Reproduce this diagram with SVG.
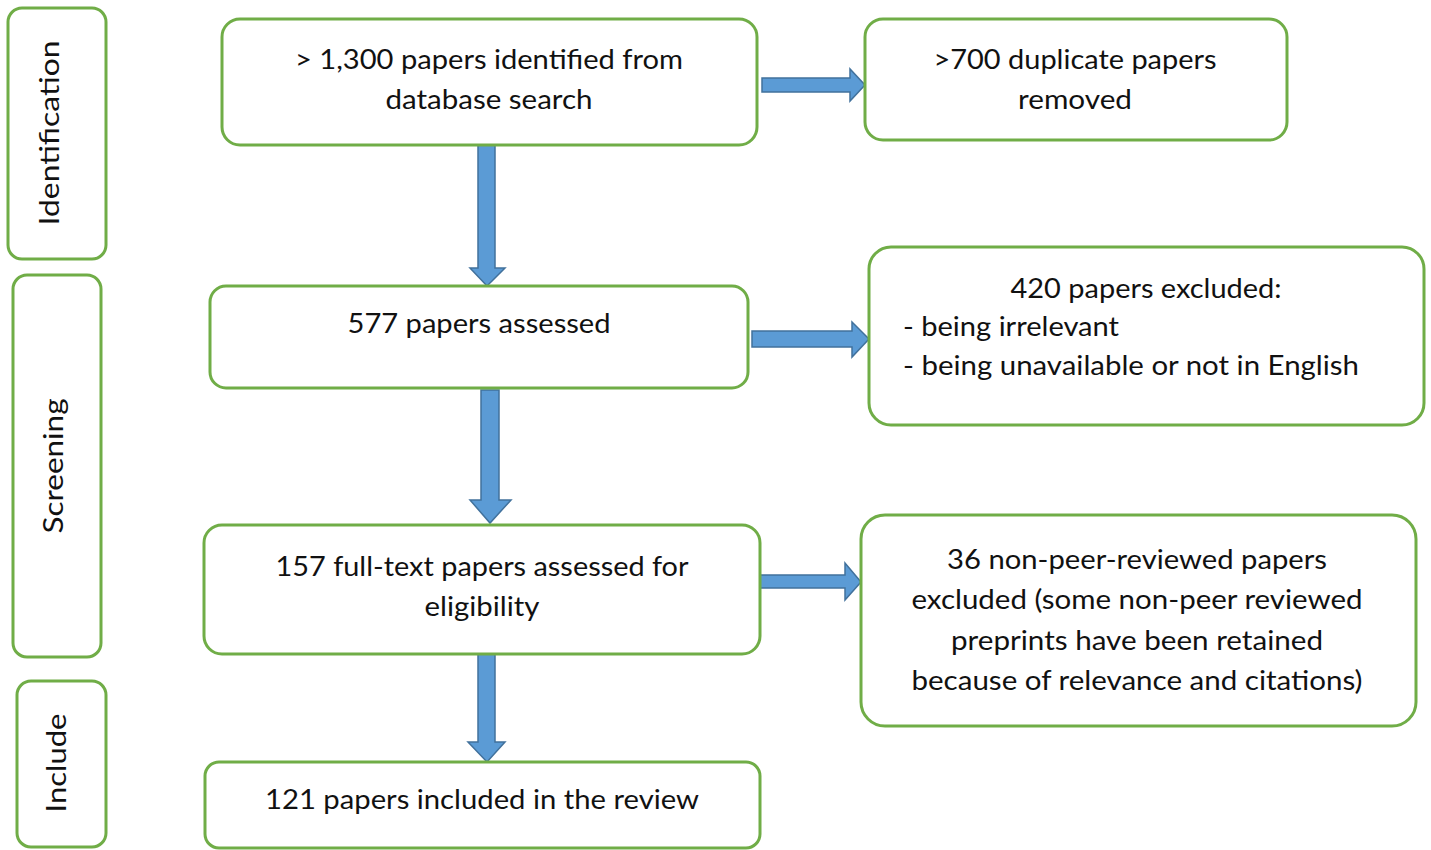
<svg xmlns="http://www.w3.org/2000/svg" width="1431" height="850" viewBox="0 0 1431 850">
<style>
.box{fill:#fff;stroke:#70ad47;stroke-width:3}
.arr{fill:#5b9bd5;stroke:#41719c;stroke-width:1.5}
text{font-family:Lato,"Open Sans","Liberation Sans",sans-serif;font-size:27px;fill:#111}
.c{text-anchor:middle}
</style>
<rect width="1431" height="850" fill="#fff"/>
<g id="side-identification"><rect class="box" x="8" y="8" width="98" height="251" rx="14"/><text class="c" transform="translate(59,133) rotate(-90)" textLength="185" lengthAdjust="spacingAndGlyphs">Identification</text></g>
<g id="side-screening"><rect class="box" x="13" y="275" width="88" height="382" rx="14"/><text class="c" transform="translate(63,466) rotate(-90)" textLength="135" lengthAdjust="spacingAndGlyphs">Screening</text></g>
<g id="side-include"><rect class="box" x="17" y="681" width="89" height="166" rx="14"/><text class="c" transform="translate(66,763) rotate(-90)" textLength="99" lengthAdjust="spacingAndGlyphs">Include</text></g>

<g id="connectors">
<path class="arr" d="M762,78 H850 V69 L865,85 L850,101 V92 H762 Z"/>
<path class="arr" d="M478,145 V268 H470 L487,286 L505,268 H495 V145 Z"/>
<path class="arr" d="M752,331 H852 V322 L869,339 L852,357 V347 H752 Z"/>
<path class="arr" d="M481,390 V500 H470 L490,523 L511,500 H499 V390 Z"/>
<path class="arr" d="M760,575 H845 V563 L861,582 L845,600 V588 H760 Z"/>
<path class="arr" d="M478,654 V742 H468 L487,762 L505,742 H495 V654 Z"/>
</g>

<g id="n1"><rect class="box" x="222" y="19" width="535" height="126" rx="18"/>
<text class="c" x="489" y="69" textLength="388" lengthAdjust="spacingAndGlyphs">&gt; 1,300 papers identified from</text>
<text class="c" x="489" y="109" textLength="207" lengthAdjust="spacingAndGlyphs">database search</text></g>
<g id="n2"><rect class="box" x="865" y="19" width="422" height="121" rx="18"/>
<text class="c" x="1075" y="69" textLength="283" lengthAdjust="spacingAndGlyphs">&gt;700 duplicate papers</text>
<text class="c" x="1075" y="109" textLength="114" lengthAdjust="spacingAndGlyphs">removed</text></g>
<g id="n3"><rect class="box" x="210" y="286" width="538" height="102" rx="16"/>
<text class="c" x="479" y="333" textLength="263" lengthAdjust="spacingAndGlyphs">577 papers assessed</text></g>
<g id="n4"><rect class="box" x="869" y="247" width="555" height="178" rx="22"/>
<text class="c" x="1146" y="298" textLength="271" lengthAdjust="spacingAndGlyphs">420 papers excluded:</text>
<text x="903" y="336" textLength="216" lengthAdjust="spacingAndGlyphs">- being irrelevant</text>
<text x="903" y="375" textLength="456" lengthAdjust="spacingAndGlyphs">- being unavailable or not in English</text></g>
<g id="n5"><rect class="box" x="204" y="525" width="556" height="129" rx="18"/>
<text class="c" x="482" y="576" textLength="413" lengthAdjust="spacingAndGlyphs">157 full-text papers assessed for</text>
<text class="c" x="482" y="616" textLength="115" lengthAdjust="spacingAndGlyphs">eligibility</text></g>
<g id="n6"><rect class="box" x="861" y="515" width="555" height="211" rx="24"/>
<text class="c" x="1137" y="569" textLength="380" lengthAdjust="spacingAndGlyphs">36 non-peer-reviewed  papers</text>
<text class="c" x="1137" y="609" textLength="451" lengthAdjust="spacingAndGlyphs">excluded (some non-peer reviewed</text>
<text class="c" x="1137" y="650" textLength="372" lengthAdjust="spacingAndGlyphs">preprints have been retained</text>
<text class="c" x="1137" y="690" textLength="451" lengthAdjust="spacingAndGlyphs">because of relevance and citations)</text></g>
<g id="n7"><rect class="box" x="205" y="762" width="555" height="86" rx="14"/>
<text class="c" x="482" y="809" textLength="434" lengthAdjust="spacingAndGlyphs">121 papers included in the review</text></g>
</svg>
